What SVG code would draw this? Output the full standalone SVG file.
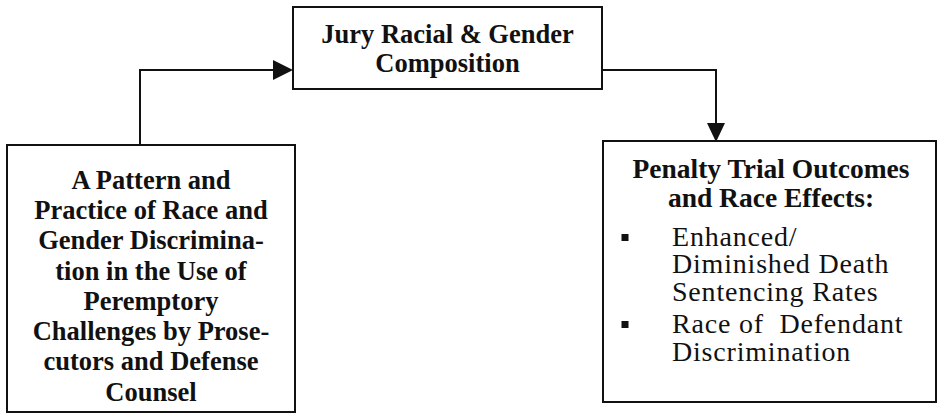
<svg xmlns="http://www.w3.org/2000/svg" width="937" height="413" viewBox="0 0 937 413">
<style>
.box{fill:#fff;stroke:#111;stroke-width:2}
.b{font-family:'Liberation Serif','DejaVu Serif',serif;font-weight:bold;font-size:26.5px;fill:#111;text-anchor:middle}
.b2{font-size:27.5px}
.r{font-family:'Liberation Serif','DejaVu Serif',serif;font-size:28px;letter-spacing:0.8px;fill:#111}
.line{fill:none;stroke:#111;stroke-width:2}
.head{fill:#111}
</style>
<rect width="937" height="413" fill="#fff"/>
<g id="connectors">
<path class="line" d="M140 145 V70 H276"/>
<polygon class="head" points="293,70 273,60 273,80"/>
<path class="line" d="M602 70 H716 V126"/>
<polygon class="head" points="716,142 707,123 725,123"/>
</g>
<g id="jury">
<rect class="box" x="293" y="7" width="309" height="82"/>
<text class="b" x="447.5" y="43">Jury Racial &amp; Gender</text>
<text class="b" x="447.5" y="72">Composition</text>
</g>
<g id="pattern">
<rect class="box" x="7" y="145" width="288" height="267"/>
<text class="b" x="151" y="189">A Pattern and</text>
<text class="b" x="151" y="219">Practice of Race and</text>
<text class="b" x="151" y="249">Gender Discrimina-</text>
<text class="b" x="151" y="280">tion in the Use of</text>
<text class="b" x="151" y="310">Peremptory</text>
<text class="b" x="151" y="340">Challenges by Prose-</text>
<text class="b" x="151" y="370">cutors and Defense</text>
<text class="b" x="151" y="401">Counsel</text>
</g>
<g id="outcomes">
<rect class="box" x="603" y="141" width="333" height="261"/>
<text class="b b2" x="771" y="178">Penalty Trial Outcomes</text>
<text class="b b2" x="771" y="207">and Race Effects:</text>
<rect x="621.5" y="234" width="7" height="7" fill="#111"/>
<text class="r" x="672" y="246">Enhanced/</text>
<text class="r" x="672" y="273">Diminished Death</text>
<text class="r" x="672" y="301">Sentencing Rates</text>
<rect x="621.5" y="321" width="7" height="7" fill="#111"/>
<text class="r" x="672" y="333">Race of&#160; Defendant</text>
<text class="r" x="672" y="361">Discrimination</text>
</g>
</svg>
